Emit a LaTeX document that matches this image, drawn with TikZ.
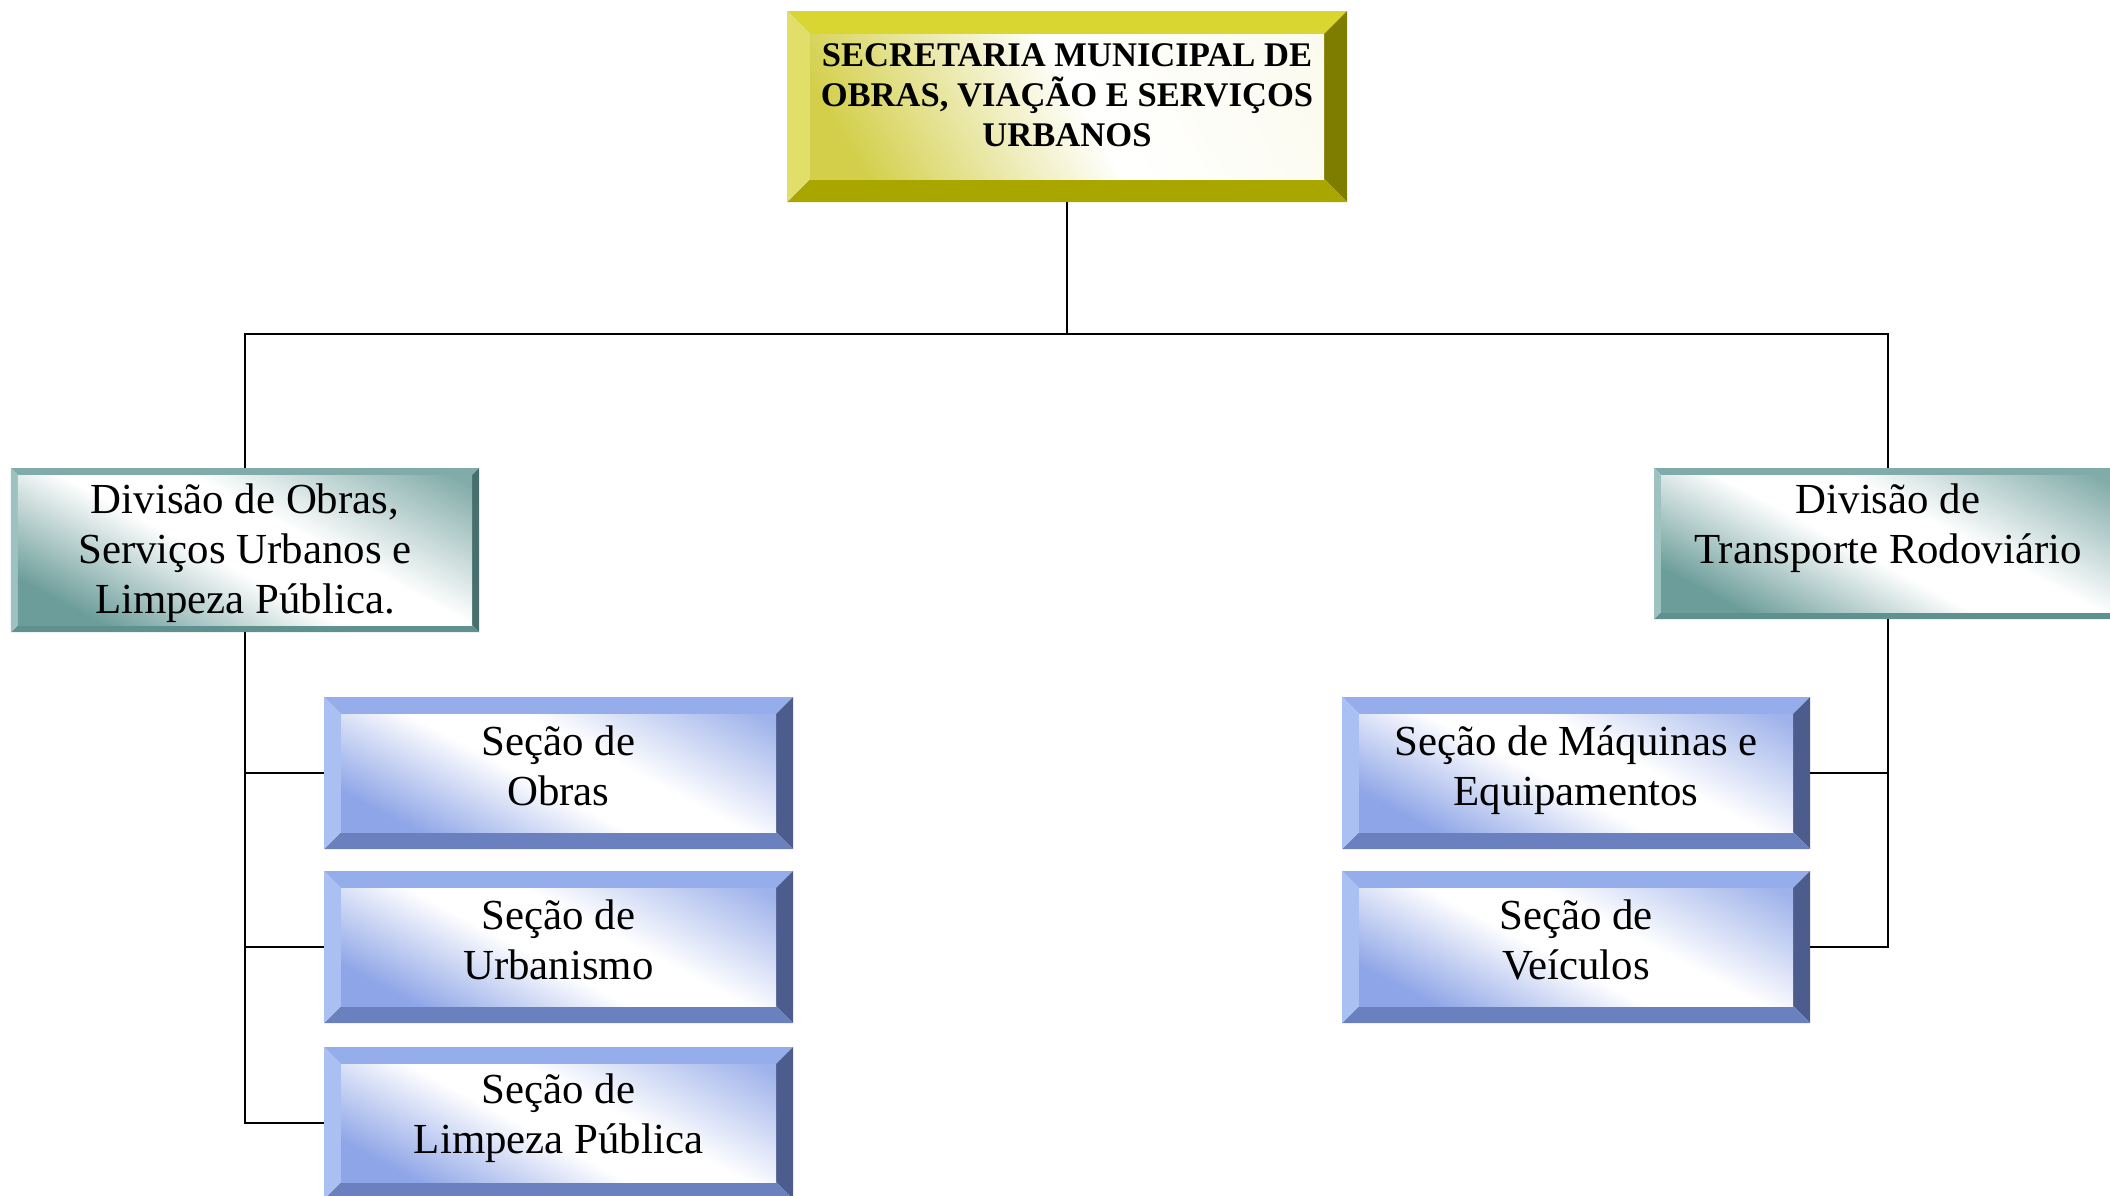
\documentclass[tikz,border=0pt]{standalone}
\usepackage{fontspec}
\setmainfont{Liberation Serif}
\usetikzlibrary{calc}
\definecolor{yT}{HTML}{D9D531}
\definecolor{yL}{HTML}{E2DE6A}
\definecolor{yB}{HTML}{A9A600}
\definecolor{yR}{HTML}{7F7D00}
\definecolor{yI}{HTML}{D3CF4A}
\definecolor{tT}{HTML}{80ABA9}
\definecolor{tL}{HTML}{9EC2C0}
\definecolor{tB}{HTML}{5F918E}
\definecolor{tR}{HTML}{476F6D}
\definecolor{tI}{HTML}{6C9D9A}
\definecolor{bT}{HTML}{95ADEB}
\definecolor{bL}{HTML}{ABC0F2}
\definecolor{bB}{HTML}{6A80BF}
\definecolor{bR}{HTML}{4B5C8D}
\definecolor{bI}{HTML}{8EA5E7}
\pgfdeclarehorizontalshading{yband}{100bp}{color(0bp)=(yI); color(22bp)=(yI); color(52bp)=(white); color(78bp)=(white!92!yI); color(100bp)=(white!85!yI)}
\pgfdeclarehorizontalshading{tband}{100bp}{color(0bp)=(tI); color(24bp)=(tI); color(46bp)=(white); color(58bp)=(white); color(82bp)=(tI!85!white); color(100bp)=(tI!85!white)}
\pgfdeclarehorizontalshading{bband}{100bp}{color(0bp)=(bI); color(24bp)=(bI); color(46bp)=(white); color(58bp)=(white); color(82bp)=(bI!85!white); color(100bp)=(bI!85!white)}
\tikzset{
  faces/.code args={#1/#2/#3/#4/#5/#6/#7}{\def\fT{#1}\def\fL{#2}\def\fB{#3}\def\fR{#4}\def\fI{#5}\def\bw{#6}\def\fA{#7}},
  bevelbox/.style={rectangle, inner sep=0pt, outer sep=0pt, path picture={
    \path (path picture bounding box.north west) coordinate (bbnw)
          (path picture bounding box.north east) coordinate (bbne)
          (path picture bounding box.south east) coordinate (bbse)
          (path picture bounding box.south west) coordinate (bbsw);
    \path ([shift={(\bw bp,-\bw bp)}]bbnw) coordinate (ibnw)
          ([shift={(-\bw bp,-\bw bp)}]bbne) coordinate (ibne)
          ([shift={(-\bw bp,\bw bp)}]bbse) coordinate (ibse)
          ([shift={(\bw bp,\bw bp)}]bbsw) coordinate (ibsw);
    \fill[\fT] (bbnw) -- (bbne) -- (ibne) -- (ibnw) -- cycle;
    \fill[\fR] (bbne) -- (bbse) -- (ibse) -- (ibne) -- cycle;
    \fill[\fB] (bbse) -- (bbsw) -- (ibsw) -- (ibse) -- cycle;
    \fill[\fL] (bbsw) -- (bbnw) -- (ibnw) -- (ibsw) -- cycle;
    \shade[shading=\fI, shading angle=\fA] (ibsw) rectangle (ibne);
  }},
  toptext/.style={align=center, inner sep=0pt, font=\fontsize{34.7}{40}\selectfont\bfseries},
  boxtext/.style={align=center, inner sep=0pt, font=\fontsize{43}{50}\selectfont},
  conn/.style={draw=black, line width=2bp},
}
\begin{document}
\begin{tikzpicture}[x=1bp, y=-1bp]
\useasboundingbox (0,0) rectangle (2110,1195);
\clip (0,0) rectangle (2110,1195);
\fill[white] (0,0) rectangle (2110,1195);

% top box
\node[bevelbox, faces={yT/yL/yB/yR/yband/23/30}, minimum width=560bp, minimum height=191bp] (top) at (1067,106.5) {};
\node[toptext] (toptxt) at (1067,95.5) {SECRETARIA MUNICIPAL DE\\OBRAS, VIAÇÃO E SERVIÇOS\\URBANOS};

% divisions
\node[bevelbox, faces={tT/tL/tB/tR/tband/7/62}, minimum width=468bp, minimum height=164bp] (ldiv) at (245,550) {};
\node[boxtext] (ldivtxt) at (245,553) {Divisão de Obras,\\Serviços Urbanos e\\Limpeza Pública.};
\node[bevelbox, faces={tT/tL/tB/tR/tband/7/62}, minimum width=468bp, minimum height=151bp] (rdiv) at (1888,543.5) {};
\node[boxtext] (rdivtxt) at (1888,528) {Divisão de\\Transporte Rodoviário};

% sections left
\node[bevelbox, faces={bT/bL/bB/bR/bband/17/62}, minimum width=469bp, minimum height=152bp] (s1) at (558.5,773) {};
\node[boxtext] (s1txt) at (558.5,766) {Seção de\\Obras};
\node[bevelbox, faces={bT/bL/bB/bR/bband/17/62}, minimum width=469bp, minimum height=152bp] (s2) at (558.5,947) {};
\node[boxtext] (s2txt) at (558.5,940) {Seção de\\Urbanismo};
\node[bevelbox, faces={bT/bL/bB/bR/bband/17/62}, minimum width=469bp, minimum height=152bp] (s3) at (558.5,1123) {};
\node[boxtext] (s3txt) at (558.5,1118) {Seção de\\Limpeza Pública};

% sections right
\node[bevelbox, faces={bT/bL/bB/bR/bband/17/62}, minimum width=468bp, minimum height=152bp] (r1) at (1576,773) {};
\node[boxtext] (r1txt) at (1576,770) {Seção de Máquinas e\\Equipamentos};
\node[bevelbox, faces={bT/bL/bB/bR/bband/17/62}, minimum width=468bp, minimum height=152bp] (r2) at (1576,947) {};
\node[boxtext] (r2txt) at (1576,940) {Seção de\\Veículos};

% connectors
\coordinate (j) at (1067,334);
\draw[conn] (top.south) -- (j);
\draw[conn] (ldiv.north) -- (ldiv.north |- j) -- (rdiv.north |- j) -- (rdiv.north);
\draw[conn] (ldiv.south) |- (s3.west);
\draw[conn] (ldiv.south) |- (s1.west);
\draw[conn] (ldiv.south) |- (s2.west);
\draw[conn] (rdiv.south) |- (r2.east);
\draw[conn] (rdiv.south) |- (r1.east);
\end{tikzpicture}
\end{document}
